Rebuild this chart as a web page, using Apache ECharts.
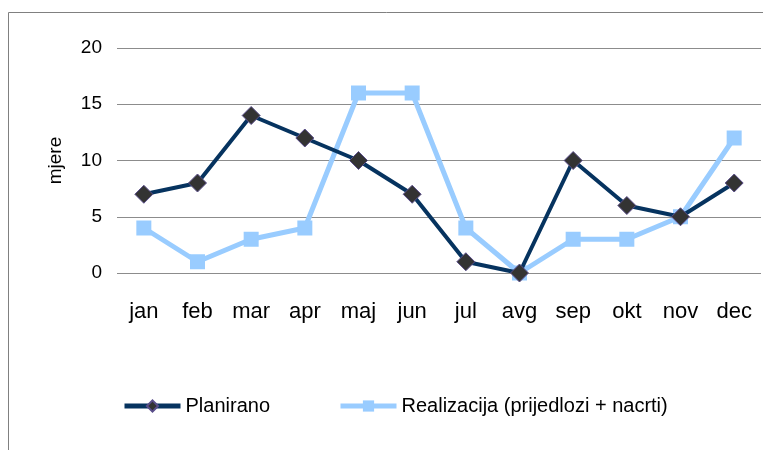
<!DOCTYPE html>
<html>
<head>
<meta charset="utf-8">
<script src="https://cdn.jsdelivr.net/npm/echarts@6/dist/echarts.min.js"></script>
<style>
  html, body { margin: 0; padding: 0; background: #fff; }
  #chart { width: 763px; height: 450px; }
</style>
</head>
<body>
<div id="chart"></div>
<script>
const months = ['jan', 'feb', 'mar', 'apr', 'maj', 'jun', 'jul', 'avg', 'sep', 'okt', 'nov', 'dec']
const planirano = [7, 8, 14, 12, 10, 7, 1, 0, 10, 6, 5, 8]
const realizacija = [4, 1, 3, 4, 16, 16, 4, 0, 3, 3, 5, 12]

const font = 'Liberation Sans, Arial, sans-serif'

const chart = echarts.init(document.getElementById('chart'))
chart.setOption({
  animation: false,
  // outer chart border
  graphic: [{
    type: 'rect',
    shape: { x: 8.5, y: 12.5, width: 800, height: 500 },
    style: { fill: 'none', stroke: '#808080', lineWidth: 1 },
    silent: true
  }],
  grid: { left: 117, right: 2, top: 48, bottom: 177 },
  legend: {
    top: 391,
    left: 117,
    itemGap: 68,
    itemWidth: 56,
    itemHeight: 14,
    lineStyle: { width: 5 },
    textStyle: { fontFamily: font, fontSize: 20, color: '#000' },
    data: ['Planirano', 'Realizacija (prijedlozi + nacrti)']
  },
  xAxis: {
    type: 'category',
    data: months,
    boundaryGap: true,
    axisLine: { show: false },
    axisTick: { show: false },
    axisLabel: { fontFamily: font, fontSize: 22, color: '#000', margin: 28 }
  },
  yAxis: {
    type: 'value',
    min: 0,
    max: 20,
    interval: 5,
    name: 'mjere',
    nameLocation: 'middle',
    nameGap: 52,
    nameRotate: 90,
    nameTextStyle: { fontFamily: font, fontSize: 19, color: '#000' },
    axisLine: { show: false },
    axisTick: { show: false },
    axisLabel: { fontFamily: font, fontSize: 19, color: '#000', margin: 15 },
    splitLine: { lineStyle: { color: '#8c8c8c', width: 1 } }
  },
  series: [
    {
      name: 'Planirano',
      type: 'line',
      data: planirano,
      symbol: 'diamond',
      symbolSize: 18,
      z: 3,
      lineStyle: { color: '#06335f', width: 4 },
      itemStyle: { color: '#333333', borderColor: '#5a4e8a', borderWidth: 1 }
    },
    {
      name: 'Realizacija (prijedlozi + nacrti)',
      type: 'line',
      data: realizacija,
      symbol: 'rect',
      symbolSize: 15,
      z: 2,
      lineStyle: { color: '#99ccff', width: 5 },
      itemStyle: { color: '#99ccff', borderColor: '#99ccff', borderWidth: 0 }
    }
  ]
})
</script>
</body>
</html>
